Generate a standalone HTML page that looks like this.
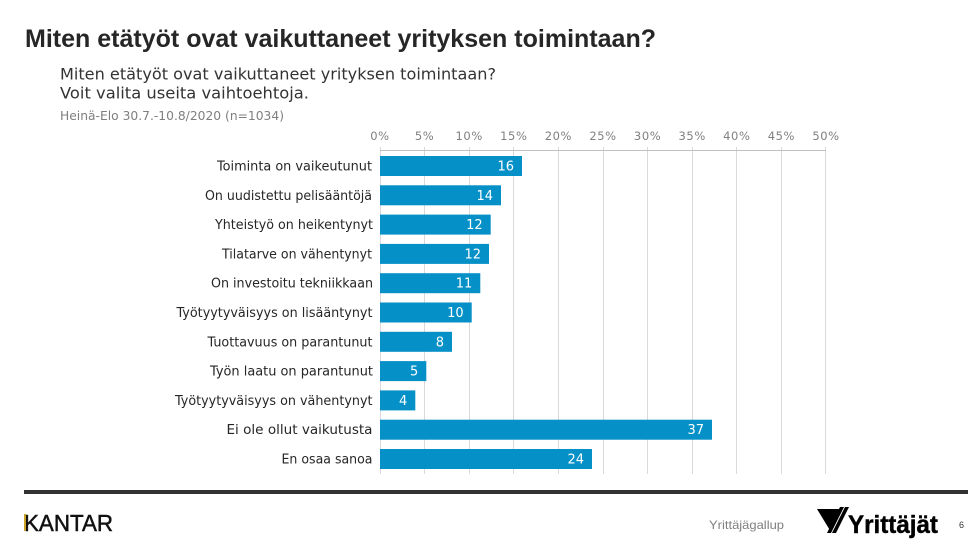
<!DOCTYPE html>
<html>
<head>
<meta charset="utf-8">
<style>
html,body{margin:0;padding:0;background:#fff;}
body{width:980px;height:543px;overflow:hidden;}
svg{display:block;}
</style>
</head>
<body>
<svg width="980" height="543" viewBox="0 0 980 543" xmlns="http://www.w3.org/2000/svg">
<rect width="980" height="543" fill="#fff"/>
<!-- Title -->
<text x="25" y="47" font-family="Liberation Sans, Arial, sans-serif" font-weight="bold" font-size="25" fill="#262626" textLength="631" lengthAdjust="spacingAndGlyphs">Miten etätyöt ovat vaikuttaneet yrityksen toimintaan?</text>
<!-- Subtitle -->
<g font-family="DejaVu Sans, Verdana, sans-serif" fill="#333">
<text x="60" y="79.5" font-size="16" textLength="436" lengthAdjust="spacingAndGlyphs">Miten etätyöt ovat vaikuttaneet yrityksen toimintaan?</text>
<text x="60" y="98.5" font-size="16" textLength="249" lengthAdjust="spacingAndGlyphs">Voit valita useita vaihtoehtoja.</text>
</g>
<text x="60" y="120" font-family="DejaVu Sans, Verdana, sans-serif" font-size="12" fill="#7f7f7f" textLength="224" lengthAdjust="spacingAndGlyphs">Heinä-Elo 30.7.-10.8/2020 (n=1034)</text>

<!-- Gridlines -->
<g stroke="#d9d9d9" stroke-width="1">
<line x1="380.5" y1="147" x2="380.5" y2="474"/>
<line x1="424.5" y1="147" x2="424.5" y2="474"/>
<line x1="469.5" y1="147" x2="469.5" y2="474"/>
<line x1="513.5" y1="147" x2="513.5" y2="474"/>
<line x1="558.5" y1="147" x2="558.5" y2="474"/>
<line x1="603.5" y1="147" x2="603.5" y2="474"/>
<line x1="647.5" y1="147" x2="647.5" y2="474"/>
<line x1="692.5" y1="147" x2="692.5" y2="474"/>
<line x1="736.5" y1="147" x2="736.5" y2="474"/>
<line x1="781.5" y1="147" x2="781.5" y2="474"/>
<line x1="825.5" y1="147" x2="825.5" y2="474"/>
</g>
<line x1="380" y1="150.5" x2="826" y2="150.5" stroke="#bfbfbf" stroke-width="1"/>

<!-- Tick labels -->
<g font-family="DejaVu Sans, Verdana, sans-serif" font-size="11.5" fill="#808080" text-anchor="middle" letter-spacing="0.6">
<text x="380" y="140">0%</text>
<text x="424.6" y="140">5%</text>
<text x="469.2" y="140">10%</text>
<text x="513.8" y="140">15%</text>
<text x="558.4" y="140">20%</text>
<text x="603" y="140">25%</text>
<text x="647.6" y="140">30%</text>
<text x="692.2" y="140">35%</text>
<text x="736.8" y="140">40%</text>
<text x="781.4" y="140">45%</text>
<text x="826" y="140">50%</text>
</g>

<!-- Bars -->
<g fill="#0690c8">
<rect x="380" y="156" width="142" height="20"/>
<rect x="380" y="185.3" width="121" height="20"/>
<rect x="380" y="214.6" width="110.7" height="20"/>
<rect x="380" y="243.9" width="109" height="20"/>
<rect x="380" y="273.2" width="100.3" height="20"/>
<rect x="380" y="302.5" width="91.7" height="20"/>
<rect x="380" y="331.8" width="72" height="20"/>
<rect x="380" y="361.1" width="46.3" height="20"/>
<rect x="380" y="390.4" width="35.3" height="20"/>
<rect x="380" y="419.7" width="332" height="20"/>
<rect x="380" y="449" width="212" height="20"/>
</g>

<!-- Values -->
<g font-family="DejaVu Sans, Verdana, sans-serif" font-size="13" fill="#fff" text-anchor="end">
<text x="514" y="170.5">16</text>
<text x="493" y="199.8">14</text>
<text x="482.7" y="229.1">12</text>
<text x="481" y="258.4">12</text>
<text x="472.3" y="287.7">11</text>
<text x="463.7" y="317">10</text>
<text x="444" y="346.3">8</text>
<text x="418.3" y="375.6">5</text>
<text x="407.3" y="404.9">4</text>
<text x="704" y="434.2">37</text>
<text x="584" y="463.5">24</text>
</g>

<!-- Category labels -->
<g font-family="DejaVu Sans, Verdana, sans-serif" font-size="13" fill="#262626">
<text x="217" y="170.5" textLength="155" lengthAdjust="spacingAndGlyphs">Toiminta on vaikeutunut</text>
<text x="205" y="199.8" textLength="167" lengthAdjust="spacingAndGlyphs">On uudistettu pelisääntöjä</text>
<text x="215" y="229.1" textLength="158" lengthAdjust="spacingAndGlyphs">Yhteistyö on heikentynyt</text>
<text x="222" y="258.4" textLength="150" lengthAdjust="spacingAndGlyphs">Tilatarve on vähentynyt</text>
<text x="211" y="287.7" textLength="162" lengthAdjust="spacingAndGlyphs">On investoitu tekniikkaan</text>
<text x="176.5" y="317" textLength="196" lengthAdjust="spacingAndGlyphs">Työtyytyväisyys on lisääntynyt</text>
<text x="207.5" y="346.3" textLength="165" lengthAdjust="spacingAndGlyphs">Tuottavuus on parantunut</text>
<text x="210" y="375.6" textLength="163" lengthAdjust="spacingAndGlyphs">Työn laatu on parantunut</text>
<text x="175" y="404.9" textLength="197.5" lengthAdjust="spacingAndGlyphs">Työtyytyväisyys on vähentynyt</text>
<text x="226.5" y="434.2" textLength="146" lengthAdjust="spacingAndGlyphs">Ei ole ollut vaikutusta</text>
<text x="281.5" y="463.5" textLength="91" lengthAdjust="spacingAndGlyphs">En osaa sanoa</text>
</g>

<!-- Footer line -->
<rect x="24" y="490" width="944" height="4" fill="#333"/>

<!-- KANTAR -->
<text x="24" y="531" font-family="Liberation Sans, Arial, sans-serif" font-size="23" fill="#111" stroke="#111" stroke-width="0.5" textLength="89" lengthAdjust="spacingAndGlyphs">KANTAR</text>
<rect x="24" y="514" width="2" height="17" fill="#c9a227"/>

<!-- Yrittäjägallup -->
<text x="709" y="529" font-family="Liberation Sans, Arial, sans-serif" font-size="12" fill="#7f7f7f" textLength="75" lengthAdjust="spacingAndGlyphs">Yrittäjägallup</text>

<!-- Yrittäjät logo -->
<g fill="#000">
<polygon points="817,509 839,509 831,532"/>
<polygon points="840,507 844,507 831,533 827,533"/>
<polygon points="845,507 849,507 836,533 832,533"/>
</g>
<text x="848" y="533" font-family="Liberation Sans, Arial, sans-serif" font-weight="bold" font-size="25" fill="#000" stroke="#000" stroke-width="0.4" textLength="90" lengthAdjust="spacingAndGlyphs">Yrittäjät</text>

<text x="959" y="528" font-family="Liberation Sans, Arial, sans-serif" font-size="9" fill="#333">6</text>
</svg>
</body>
</html>
